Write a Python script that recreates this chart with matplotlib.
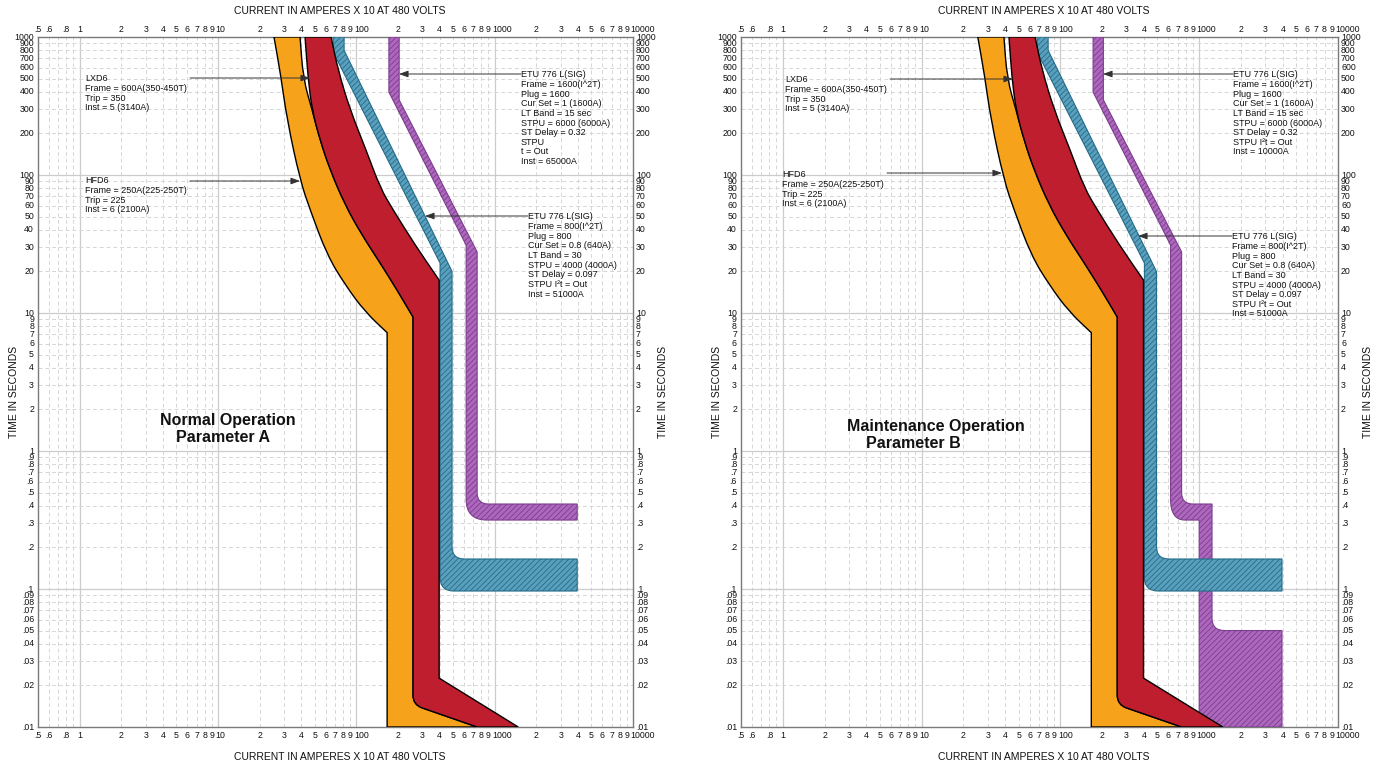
import matplotlib
matplotlib.use('Agg')
import matplotlib.pyplot as plt
from matplotlib.path import Path
from matplotlib.patches import PathPatch
from matplotlib.transforms import blended_transform_factory, offset_copy
from matplotlib.ticker import FixedLocator, NullFormatter
from matplotlib import font_manager as fm
import numpy as np

plt.rcParams['font.family'] = ['Liberation Sans', 'DejaVu Sans']
plt.rcParams['hatch.linewidth'] = 0.6

# ---------------- data (current x10 A, time s) ----------------
# HFD6 (orange)
hfd6_min_x = [25.4, 28.4, 31.6, 39.2, 46.3, 61.5, 83.0, 115.7, 167.0, 167.0]
hfd6_min_t = [1000, 530, 250, 92, 56, 26.3, 16.0, 10.2, 7.2, 0.01]
hfd6_max_x = [39.2, 41.3, 47.9, 54.7, 64.6, 83.0, 110.0, 149.0, 197.0, 257.0, 257.0, 747.0]
hfd6_max_t = [1000, 500, 296, 179, 109, 60.6, 36.7, 23.0, 14.7, 9.35, 0.0145, 0.01]
# LXD6 (red)
lxd6_min_x = [42.6, 44.8, 47.9, 54.7, 64.6, 83.0, 110.0, 149.0, 197.0, 257.0, 257.0, 747.0]
lxd6_min_t = [1000, 500, 296, 179, 109, 60.6, 36.7, 23.0, 14.7, 9.35, 0.0145, 0.01]
lxd6_max_x = [65.7, 73.8, 90.2, 117.6, 149.0, 184.5, 266.0, 397.0, 397.0, 1480.0]
lxd6_max_t = [1000, 576, 296, 152, 80.5, 55.8, 31.1, 17.3, 0.0226, 0.01]
# ETU 776 800A (blue)
etu800_min_x = [67.9, 67.9, 403, 403, 3950]
etu800_min_t = [1000, 780, 23.0, 0.0967, 0.0967]
etu800_max_x = [81.6, 81.6, 492, 492, 3950]
etu800_max_t = [1000, 800, 20.0, 0.165, 0.165]
# ETU 776 1600A normal (purple)
etu1600a_min_x = [172, 172, 622, 622, 3950]
etu1600a_min_t = [1000, 399, 31.0, 0.316, 0.316]
etu1600a_max_x = [204, 204, 747, 747, 3950]
etu1600a_max_t = [1000, 350, 27.7, 0.413, 0.413]
# ETU 776 1600A maintenance (purple)
etu1600b_min_x = [172, 172, 622, 622, 1000, 1000]
etu1600b_min_t = [1000, 399, 31.0, 0.316, 0.316, 0.01]
etu1600b_max_x = [204, 204, 747, 747, 1237, 1237, 3950, 3950]
etu1600b_max_t = [1000, 350, 27.7, 0.413, 0.413, 0.05, 0.05, 0.01]

x_ticks = [0.5, 0.6, 0.7, 0.8, 0.9] + [m * 10 ** e for e in range(0, 4) for m in range(1, 10)] + [10000]
x_labels = ['.5', '.6', '', '.8', ''] + \
    [('1' + '0' * e) if m == 1 else str(m) for e in range(0, 4) for m in range(1, 10)] + ['10000']
y_ticks = [m * 10.0 ** e for e in range(-2, 3) for m in range(1, 10)] + [1000]
y_labels = []
for e in range(-2, 3):
    for m in range(1, 10):
        if e < 0:
            y_labels.append(('%g' % (m * 10.0 ** e)).lstrip('0'))
        else:
            y_labels.append(str(m * 10 ** e))
y_labels.append('1000')

lxd6_text = ['LXD6', 'Frame = 600A(350-450T)', 'Trip = 350', 'Inst = 5 (3140A)']
hfd6_text = ['HFD6', 'Frame = 250A(225-250T)', 'Trip = 225', 'Inst = 6 (2100A)']
etu1600a_text = ['ETU 776 L(SIG)', 'Frame = 1600(I^2T)', 'Plug = 1600', 'Cur Set = 1 (1600A)',
                 'LT Band = 15 sec', 'STPU = 6000 (6000A)', 'ST Delay = 0.32', 'STPU', 't = Out',
                 'Inst = 65000A']
etu1600b_text = ['ETU 776 L(SIG)', 'Frame = 1600(I^2T)', 'Plug = 1600', 'Cur Set = 1 (1600A)',
                 'LT Band = 15 sec', 'STPU = 6000 (6000A)', 'ST Delay = 0.32', 'STPU I\u00b2t = Out',
                 'Inst = 10000A']
etu800_text = ['ETU 776 L(SIG)', 'Frame = 800(I^2T)', 'Plug = 800', 'Cur Set = 0.8 (640A)',
               'LT Band = 30', 'STPU = 4000 (4000A)', 'ST Delay = 0.097', 'STPU I\u00b2t = Out',
               'Inst = 51000A']

# ---------------- layout ----------------
W, H = 1380, 768
TOP, BOT = 37, 727
panels = [(38, 633), (741, 1338)]

names = {f.name for f in fm.fontManager.ttflist}
if 'Liberation Sans Narrow' in names:
    tick_font, tick_size = 'Liberation Sans Narrow', 7.0
else:
    tick_font, tick_size = 'Liberation Sans', 6.3

fig = plt.figure(figsize=(W / 100, H / 100), dpi=100)


def make_path(xs, ts, modes):
    L = np.log10(np.column_stack([xs, ts]).astype(float))
    n = len(L)
    verts, codes = [], []
    for i in range(n):
        c = L[i]
        m = modes.get(i)
        if m is None or i == 0:
            verts.append(c)
            codes.append(Path.LINETO)
            continue
        p, q = L[i - 1], L[(i + 1) % n]
        if m == 's':
            a, b = (p + c) / 2, (c + q) / 2
        else:
            dp, dq = p - c, q - c
            lp, lq = np.hypot(*dp), np.hypot(*dq)
            a = c + dp / lp * min(m, lp / 2)
            b = c + dq / lq * min(m, lq / 2)
        verts += [a, c, b]
        codes += [Path.LINETO, Path.CURVE3, Path.CURVE3]
    codes[0] = Path.MOVETO
    verts.append(verts[0])
    codes.append(Path.CLOSEPOLY)
    return Path(10 ** np.array(verts), codes)


def band(ax, mnx, mnt, mxx, mxt, smin=None, smax=None, **kw):
    smin = smin or {}
    smax = smax or {}
    xs = list(mnx) + list(mxx)[::-1]
    ts = list(mnt) + list(mxt)[::-1]
    nmin, nmax = len(mnx), len(mxx)
    modes = dict(smin)
    for j, v in smax.items():
        modes[nmin + (nmax - 1 - j)] = v
    ax.add_patch(PathPatch(make_path(xs, ts, modes), **kw))


def setup_axes(k):
    x0, x1 = panels[k]
    ax = fig.add_axes([x0 / W, (H - BOT) / H, (x1 - x0) / W, (BOT - TOP) / H])
    ax.set_xscale('log')
    ax.set_yscale('log')
    ax.set_xlim(0.5, 10000)
    ax.set_ylim(0.01, 1000)
    maj_x = [1, 10, 100, 1000]
    maj_y = [0.1, 1, 10, 100]
    ax.xaxis.set_major_locator(FixedLocator(maj_x))
    ax.xaxis.set_minor_locator(FixedLocator([v for v in x_ticks if v not in maj_x]))
    ax.yaxis.set_major_locator(FixedLocator(maj_y))
    ax.yaxis.set_minor_locator(FixedLocator([v for v in y_ticks if v not in maj_y]))
    for a in (ax.xaxis, ax.yaxis):
        a.set_major_formatter(NullFormatter())
        a.set_minor_formatter(NullFormatter())
    ax.tick_params(which='both', length=0)
    ax.grid(which='major', color='#cccccc', lw=0.9, ls='-', zorder=0)
    ax.grid(which='minor', color='#d6d6d6', lw=0.7, ls=(0, (4, 3)), zorder=0)
    ax.set_axisbelow(True)
    for s in ax.spines.values():
        s.set_color('#7a7a7a')
        s.set_linewidth(1.0)
    # tick labels
    trx = blended_transform_factory(ax.transData, ax.transAxes)
    for v, lab in zip(x_ticks, x_labels):
        if not lab:
            continue
        dec = lab in ('10', '100', '1000', '10000')
        ha = 'left' if dec else 'center'
        dx = -2.5 if dec else 0
        ax.text(v, 0, lab, transform=offset_copy(trx, fig, x=dx, y=-3.5, units='dots'),
                ha=ha, va='top', fontsize=tick_size, family=tick_font, color='#111111')
        ax.text(v, 1, lab, transform=offset_copy(trx, fig, x=dx, y=2.5, units='dots'),
                ha=ha, va='bottom', fontsize=tick_size, family=tick_font, color='#111111')
    try_ = blended_transform_factory(ax.transAxes, ax.transData)
    for v, lab in zip(y_ticks, y_labels):
        ax.text(0, v, lab, transform=offset_copy(try_, fig, x=-4, y=0, units='dots'),
                ha='right', va='center', fontsize=tick_size, family=tick_font, color='#111111')
        ax.text(1, v, lab, transform=offset_copy(try_, fig, x=3, y=0, units='dots'),
                ha='left', va='center', fontsize=tick_size, family=tick_font, color='#111111')
    # axis titles
    cx = (x0 + x1) / 2 + 4
    fig.text(cx / W, 1 - 11 / H, 'CURRENT IN AMPERES X 10 AT 480 VOLTS', ha='center', va='center',
             fontsize=7.5, color='#111111')
    fig.text(cx / W, 1 - 757 / H, 'CURRENT IN AMPERES X 10 AT 480 VOLTS', ha='center', va='center',
             fontsize=7.5, color='#111111')
    for xx in (x0 - 24, x1 + 30):
        fig.text(xx / W, 1 - 392 / H, 'TIME IN SECONDS', ha='center', va='center', rotation=90,
                 fontsize=7.5, color='#111111')
    return ax


def fx(px, k):
    x0, x1 = panels[k]
    return (px - x0) / (x1 - x0)


def fy(py):
    return (BOT - py) / (BOT - TOP)


def block(ax, k, px, py_first, lines, spacing=9.65):
    for i, s in enumerate(lines):
        ax.text(fx(px, k), fy(py_first + i * spacing + 3.3), s, transform=ax.transAxes,
                ha='left', va='baseline', fontsize=6.5, color='#111111', zorder=6)


def arrow(ax, k, tail_px, tip_px, py):
    ax.annotate('', xy=(fx(tip_px, k), fy(py)), xytext=(fx(tail_px, k), fy(py)),
                xycoords='axes fraction', textcoords='axes fraction',
                arrowprops=dict(arrowstyle='-|>,head_length=0.55,head_width=0.2', color='#333333',
                                lw=0.7, shrinkA=0, shrinkB=0, mutation_scale=10), zorder=6)


orange_kw = dict(facecolor='#f7a21b', edgecolor='black', lw=1.0, zorder=4)
red_kw = dict(facecolor='#bf1e2e', edgecolor='black', lw=1.0, zorder=4.1)
blue_kw = dict(facecolor='#5aa0bd', edgecolor='#246c8a', lw=0.8, hatch='//////', zorder=3.5)
purple_kw = dict(facecolor='#ad68bd', edgecolor='#7c3d8d', lw=0.8, hatch='//////', zorder=3)

smooth8 = {i: 's' for i in range(1, 9)}
smooth8r = dict(smooth8)
smooth8r[10] = 0.07

for k in range(2):
    ax = setup_axes(k)
    if k == 0:
        band(ax, etu1600a_min_x, etu1600a_min_t, etu1600a_max_x, etu1600a_max_t,
             smin={3: 0.15}, smax={3: 0.08}, **purple_kw)
    else:
        band(ax, etu1600b_min_x, etu1600b_min_t, etu1600b_max_x, etu1600b_max_t,
             smin={3: 0.15}, smax={3: 0.08, 5: 0.09}, **purple_kw)
    band(ax, etu800_min_x, etu800_min_t, etu800_max_x, etu800_max_t,
         smin={3: 0.1}, smax={3: 0.09}, **blue_kw)
    band(ax, hfd6_min_x, hfd6_min_t, hfd6_max_x, hfd6_max_t,
         smin={i: 's' for i in range(1, 8)}, smax=smooth8r, **orange_kw)
    band(ax, lxd6_min_x, lxd6_min_t, lxd6_max_x, lxd6_max_t,
         smin=smooth8r, smax={i: 's' for i in range(1, 7)}, **red_kw)

    if k == 0:
        block(ax, 0, 85, 78, lxd6_text)
        arrow(ax, 0, 190, 310, 78)
        block(ax, 0, 85, 180, hfd6_text)
        arrow(ax, 0, 190, 300, 181)
        block(ax, 0, 521, 74, etu1600a_text)
        arrow(ax, 0, 521, 399, 74)
        block(ax, 0, 528, 216, etu800_text)
        arrow(ax, 0, 528, 425, 216)
        ax.text(fx(160, 0), fy(421), 'Normal Operation', transform=ax.transAxes, ha='left',
                va='center', fontsize=11.5, fontweight='bold', color='#111111', zorder=6)
        ax.text(fx(176, 0), fy(438), 'Parameter A', transform=ax.transAxes, ha='left',
                va='center', fontsize=11.5, fontweight='bold', color='#111111', zorder=6)
    else:
        block(ax, 1, 785, 79, lxd6_text)
        arrow(ax, 1, 890, 1013, 79)
        block(ax, 1, 782, 174, hfd6_text)
        arrow(ax, 1, 887, 1002, 173)
        block(ax, 1, 1233, 74, etu1600b_text)
        arrow(ax, 1, 1233, 1103, 74)
        block(ax, 1, 1232, 236, etu800_text)
        arrow(ax, 1, 1232, 1138, 236)
        ax.text(fx(847, 1), fy(427), 'Maintenance Operation', transform=ax.transAxes, ha='left',
                va='center', fontsize=11.5, fontweight='bold', color='#111111', zorder=6)
        ax.text(fx(866, 1), fy(443), 'Parameter B', transform=ax.transAxes, ha='left',
                va='center', fontsize=11.5, fontweight='bold', color='#111111', zorder=6)

fig.savefig('out.png', dpi=100)
